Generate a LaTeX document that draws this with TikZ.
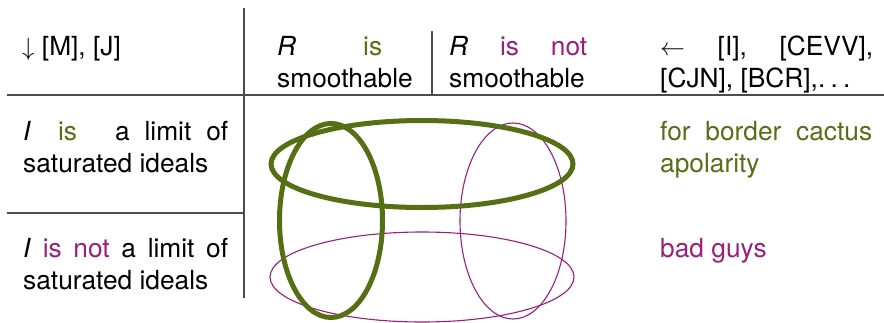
\documentclass[tikz,border=0pt]{standalone}
\usepackage{fontspec}
\setmainfont{TeX Gyre Heros}
\usepackage{tikz}
\usetikzlibrary{positioning}
\definecolor{goodgreen}{RGB}{86,110,20}
\definecolor{badpurple}{RGB}{155,30,125}

\begin{document}
\begin{tikzpicture}[x=1pt,y=-1pt,
    cell/.style={anchor=base west,inner sep=0pt,align=justify,
      font=\fontsize{26.3}{32}\selectfont},
    rule/.style={line width=1.3pt,black!70},
    goodring/.style={line width=5pt,goodgreen},
    badring/.style={line width=1.1pt,badpurple}]
  \useasboundingbox (0,0) rectangle (884,322);
  % table rules
  \draw[rule] (244,8) -- (244,298);
  \draw[rule] (7,95) -- (884,95);
  \draw[rule] (7,213) -- (244,213);
  \draw[rule] (432,31) -- (432,95);
  % header row
  \node[cell,text width=150pt] (refsdown) at (22,55) {$\downarrow$ [M], [J]};
  \node[cell,text width=105pt] (smooth) at (277,55)
     {\textit{R} \textcolor{goodgreen}{is}\linebreak smoothable};
  \node[cell,text width=138pt] (nonsmooth) at (449,55)
     {\textit{R} \textcolor{badpurple}{is} \textcolor{badpurple}{not}\linebreak smoothable};
  \node[cell,text width=213pt] (refsleft) at (660,55)
     {$\leftarrow$ [I], [CEVV],\linebreak {[CJN]}, [BCR],.\kern0.2em.\kern0.2em.};
  % row labels
  \node[cell,text width=205pt] (islimit) at (23,140)
     {\textit{I}\hspace{27pt}\textcolor{goodgreen}{is}\hspace{38pt}a limit of\linebreak saturated ideals};
  \node[cell,text width=205pt] (notlimit) at (23,257)
     {\textit{I} \textcolor{badpurple}{is not} a limit of\linebreak saturated ideals};
  \node[cell,text width=212pt,text=goodgreen] (cactus) at (660,140)
     {for border cactus\linebreak apolarity};
  \node[cell,text width=212pt,text=badpurple] (badguys) at (660,257) {bad guys};
  % the four rings
  \draw[badring] (422,277) ellipse [x radius=152pt,y radius=45pt];
  \draw[badring] (513,221) ellipse [x radius=53pt,y radius=98pt];
  \draw[goodring] (422,164) ellipse [x radius=151pt,y radius=43.5pt];
  \draw[goodring] (331,220.5) ellipse [x radius=51.5pt,y radius=97pt];
\end{tikzpicture}
\end{document}
